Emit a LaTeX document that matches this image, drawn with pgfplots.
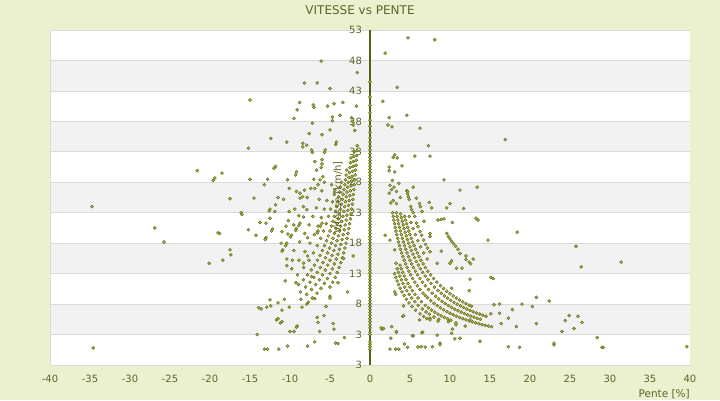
\documentclass[border=0pt]{standalone}
\usepackage{fontspec}
\setmainfont{DejaVu Sans}
\usepackage{pgfplots}
\pgfplotsset{compat=1.18}
\definecolor{bg}{RGB}{235,240,207}
\definecolor{band}{RGB}{242,242,242}
\definecolor{gridc}{RGB}{218,218,218}
\definecolor{olv}{RGB}{88,94,18}
\definecolor{olvfill}{RGB}{170,178,66}
\definecolor{txt}{RGB}{96,100,38}
\pgfplotsset{pt/.style={only marks, mark=square*, mark size=1.1pt,
  mark options={rotate=45, draw=olv, fill=olvfill, line width=0.35pt}}}
\begin{document}
\begin{tikzpicture}
\fill[bg] (0,0) rectangle (720pt,400pt);
\path[use as bounding box] (0,0) rectangle (720pt,400pt);
\node[text=txt, font=\fontsize{12}{14}\selectfont] at (360pt,390pt) {VITESSE vs PENTE};
\begin{axis}[
  axis on top,
  scale only axis, width=640pt, height=335pt,
  at={(50pt,35pt)}, anchor=south west,
  xmin=-40, xmax=40, ymin=-2, ymax=53,
  axis x line*=bottom, axis y line*=center,
  hide obscured x ticks=false, hide obscured y ticks=false,
  axis background/.style={fill=white},
  x axis line style={gridc, line width=0.8pt},
  y axis line style={olv, line width=1.3pt},
  major tick length=0pt,
  xtick={-40,-35,-30,-25,-20,-15,-10,-5,0,5,10,15,20,25,30,35,40},
  xticklabels={-40,-35,-30,-25,-20,-15,-10,-5,0,5,10,15,20,25,30,35,40},
  ytick={-2,3,8,13,18,23,28,33,38,43,48,53},
  yticklabels={3,3,8,13,18,23,28,33,38,43,48,53},
  xticklabel style={font=\fontsize{10}{12}\selectfont, text=txt, yshift=-7pt},
  yticklabel style={font=\fontsize{10}{12}\selectfont, text=txt, xshift=-4.5pt},
  xlabel={Pente [\%]}, ylabel={Vitesse [km/h]},
  every axis x label/.style={at={(rel axis cs:1,0)}, anchor=north east, inner sep=0pt, yshift=-24pt, font=\fontsize{10.5}{12}\selectfont, text=txt},
  every axis y label/.style={at={(rel axis cs:0.5,0.5)}, xshift=-32pt, rotate=90, anchor=center, inner sep=0pt, font=\fontsize{10}{12}\selectfont, text=txt},
]
\fill[band] (axis cs:-40,43) rectangle (axis cs:40,48);
\fill[band] (axis cs:-40,33) rectangle (axis cs:40,38);
\fill[band] (axis cs:-40,23) rectangle (axis cs:40,28);
\fill[band] (axis cs:-40,13) rectangle (axis cs:40,18);
\fill[band] (axis cs:-40,3) rectangle (axis cs:40,8);
\draw[gridc, line width=0.8pt] (axis cs:-40,3) -- (axis cs:40,3);
\draw[gridc, line width=0.8pt] (axis cs:-40,8) -- (axis cs:40,8);
\draw[gridc, line width=0.8pt] (axis cs:-40,13) -- (axis cs:40,13);
\draw[gridc, line width=0.8pt] (axis cs:-40,18) -- (axis cs:40,18);
\draw[gridc, line width=0.8pt] (axis cs:-40,23) -- (axis cs:40,23);
\draw[gridc, line width=0.8pt] (axis cs:-40,28) -- (axis cs:40,28);
\draw[gridc, line width=0.8pt] (axis cs:-40,33) -- (axis cs:40,33);
\draw[gridc, line width=0.8pt] (axis cs:-40,38) -- (axis cs:40,38);
\draw[gridc, line width=0.8pt] (axis cs:-40,43) -- (axis cs:40,43);
\draw[gridc, line width=0.8pt] (axis cs:-40,48) -- (axis cs:40,48);
\draw[gridc, line width=0.8pt] (rel axis cs:0,0) rectangle (rel axis cs:1,1);

% right side curves
\addplot[pt] coordinates {
(2.83,23) (2.9,22.4) (2.98,21.8) (3.07,21.2) (3.16,20.6) (3.25,20) (3.35,19.4) (3.46,18.8) (3.57,18.2) (3.69,17.6) (3.82,17) (3.96,16.4) (4.11,15.8) (4.28,15.2) (4.45,14.6) (4.64,14) (4.85,13.4) (5.08,12.8) (5.33,12.2) (5.6,11.6) (5.91,11) (6.25,10.4) (6.63,9.8) (6.91,9.4)
(7.2,9.03) (7.6,8.55) (8.0,8.13) (8.4,7.74) (8.8,7.39) (9.2,7.07) (9.6,6.77) (10.0,6.5) (10.4,6.25) (10.8,6.02) (11.2,5.8) (11.6,5.6) (12.0,5.42) (12.4,5.24) (12.8,5.08) (13.2,4.92) (13.6,4.78) (14.0,4.64) (14.4,4.51) (14.8,4.39) (15.2,4.28)
(3.3,23) (3.39,22.4) (3.49,21.8) (3.58,21.2) (3.69,20.6) (3.8,20) (3.92,19.4) (4.04,18.8) (4.18,18.2) (4.32,17.6) (4.47,17) (4.63,16.4) (4.81,15.8) (5.0,15.2) (5.21,14.6) (5.43,14) (5.67,13.4) (5.94,12.8) (6.23,12.2) (6.55,11.6) (6.91,11) (7.31,10.4) (7.76,9.8)
(8.2,9.27) (8.6,8.84) (9.0,8.44) (9.4,8.09) (9.8,7.76) (10.2,7.45) (10.6,7.17) (11.0,6.91) (11.4,6.67) (11.8,6.44) (12.2,6.23) (12.6,6.03) (13.0,5.85) (13.4,5.67) (13.8,5.51)
(3.82,22.8) (3.92,22.2) (4.03,21.6) (4.14,21) (4.26,20.4) (4.39,19.8) (4.53,19.2) (4.68,18.6) (4.83,18) (5.0,17.4) (5.18,16.8) (5.37,16.2) (5.58,15.6) (5.8,15) (6.04,14.4) (6.3,13.8) (6.59,13.2) (6.9,12.6) (7.25,12) (7.63,11.4) (8.06,10.8)
(8.5,10.24) (8.9,9.78) (9.3,9.35) (9.7,8.97) (10.1,8.61) (10.5,8.29) (10.9,7.98) (11.3,7.7) (11.7,7.44) (12.1,7.19) (12.5,6.96) (12.9,6.74) (13.3,6.54) (13.7,6.35) (14.1,6.17) (14.5,6.0)
(4.33,22.4) (4.45,21.8) (4.58,21.2) (4.71,20.6) (4.85,20) (5.0,19.4) (5.16,18.8) (5.33,18.2) (5.51,17.6) (5.71,17) (5.91,16.4) (6.14,15.8) (6.38,15.2) (6.64,14.6) (6.93,14) (7.24,13.4) (7.58,12.8) (7.95,12.2) (8.36,11.6)
(8.8,11.02) (9.2,10.54) (9.6,10.1) (10.0,9.7) (10.4,9.33) (10.8,8.98) (11.2,8.66) (11.6,8.36) (12.0,8.08) (12.4,7.82) (12.7,7.64)
(4.91,22.4) (5.14,21.4) (5.39,20.4) (5.67,19.4) (5.98,18.4) (6.32,17.4) (6.71,16.4) (7.14,15.4)
(3.75,14.4) (3.91,13.8) (4.09,13.2) (4.29,12.6) (4.5,12) (4.74,11.4) (5.0,10.8) (5.29,10.2) (5.63,9.6) (6.0,9) (6.43,8.4) (6.92,7.8)
(7.3,7.4) (7.7,7.01) (8.1,6.67) (8.5,6.35) (8.9,6.07) (9.3,5.81) (9.7,5.57) (10.1,5.35)
(3.41,13.8) (3.56,13.2) (3.73,12.6) (3.92,12) (4.12,11.4) (4.35,10.8) (4.61,10.2) (4.9,9.6) (5.22,9) (5.6,8.4) (6.03,7.8) (6.53,7.2) (7.0,6.71) (7.4,6.35) (8.0,5.88)
(3.08,13) (3.23,12.4) (3.39,11.8) (3.57,11.2) (3.77,10.6) (4.0,10) (4.26,9.4) (4.55,8.8) (4.88,8.2) (5.26,7.6) (5.71,7) (6.25,6.4) (6.7,5.97) (7.1,5.63)
(4.6,26.6) (4.7,26.1) (4.8,25.6) (4.9,25.2) (5.1,24.0) (5.2,23.5) (5.4,23.0) (5.6,22.4) (5.8,21.3) (6.0,20.7) (6.25,19.9) (6.45,19.3) (6.7,18.5) (6.95,17.8) (7.2,17.2) (7.5,16.6)
(9.6,19.6) (9.8,19.1) (10.0,18.7) (10.2,18.3) (10.45,17.9) (10.7,17.5) (11.0,17.0)
(6.2,24.5) (6.3,24.0) (6.5,23.2) (7.5,19.6) (7.5,19.1)
};

% left side curves
\addplot[pt] coordinates {
(-1.59,34) (-1.63,33.2) (-1.67,32.4) (-1.71,31.6) (-1.75,30.8) (-1.8,30) (-1.85,29.2) (-1.9,28.4) (-1.96,27.6) (-2.01,26.8) (-2.08,26) (-2.14,25.2) (-2.21,24.4) (-2.29,23.6) (-2.37,22.8) (-2.45,22) (-2.55,21.2) (-2.65,20.4) (-2.76,19.6) (-2.87,18.8) (-3.0,18) (-3.14,17.2) (-3.29,16.4) (-3.46,15.6) (-3.65,14.8) (-3.86,14) (-4.09,13.2) (-4.35,12.4) (-4.66,11.6) (-5.0,10.8)
(-1.97,33) (-2.02,32.2) (-2.07,31.4) (-2.12,30.6) (-2.18,29.8) (-2.24,29) (-2.3,28.2) (-2.37,27.4) (-2.44,26.6) (-2.52,25.8) (-2.6,25) (-2.69,24.2) (-2.78,23.4) (-2.88,22.6) (-2.98,21.8) (-3.1,21) (-3.22,20.2) (-3.35,19.4) (-3.49,18.6) (-3.65,17.8) (-3.82,17) (-4.01,16.2) (-4.22,15.4) (-4.45,14.6) (-4.71,13.8) (-5.0,13) (-5.33,12.2) (-5.7,11.4) (-6.13,10.6) (-6.63,9.8) (-7.22,9)
(-2.38,32) (-2.44,31.2) (-2.5,30.4) (-2.57,29.6) (-2.64,28.8) (-2.71,28) (-2.79,27.2) (-2.88,26.4) (-2.97,25.6) (-3.06,24.8) (-3.17,24) (-3.28,23.2) (-3.39,22.4) (-3.52,21.6) (-3.65,20.8) (-3.8,20) (-3.96,19.2) (-4.13,18.4) (-4.32,17.6) (-4.52,16.8) (-4.75,16) (-5.0,15.2) (-5.28,14.4) (-5.59,13.6) (-5.94,12.8) (-6.33,12) (-6.79,11.2) (-7.31,10.4) (-7.92,9.6) (-8.64,8.8)
(-2.9,30) (-2.98,29.2) (-3.06,28.4) (-3.15,27.6) (-3.25,26.8) (-3.35,26) (-3.45,25.2) (-3.57,24.4) (-3.69,23.6) (-3.82,22.8) (-3.95,22) (-4.1,21.2) (-4.26,20.4) (-4.44,19.6) (-4.63,18.8) (-4.83,18) (-5.06,17.2) (-5.3,16.4) (-5.58,15.6) (-5.88,14.8) (-6.21,14) (-6.59,13.2) (-7.02,12.4) (-7.5,11.6) (-8.06,10.8) (-8.7,10)
(-3.57,28) (-3.68,27.2) (-3.79,26.4) (-3.91,25.6) (-4.03,24.8) (-4.17,24) (-4.31,23.2) (-4.46,22.4) (-4.63,21.6) (-4.81,20.8) (-5.0,20) (-5.21,19.2) (-5.43,18.4) (-5.68,17.6) (-5.95,16.8) (-6.25,16) (-6.58,15.2) (-6.94,14.4) (-7.35,13.6) (-7.81,12.8) (-8.33,12) (-8.93,11.2)
(-4.46,26) (-4.68,24.8) (-4.92,23.6) (-5.18,22.4) (-5.47,21.2) (-5.8,20) (-6.17,18.8) (-6.59,17.6) (-7.07,16.4) (-7.63,15.2) (-8.29,14) (-9.06,12.8)
(-5.4,25) (-5.72,23.6) (-6.08,22.2) (-6.49,20.8) (-6.96,19.4) (-7.5,18) (-8.13,16.6) (-8.88,15.2) (-9.78,13.8)
(-5.71,28) (-6.02,26.6) (-6.35,25.2) (-6.72,23.8) (-7.14,22.4) (-7.62,21) (-8.16,19.6) (-8.79,18.2) (-9.52,16.8) (-10.39,15.4)
(-6.67,30) (-7.02,28.5) (-7.41,27) (-7.84,25.5) (-8.33,24) (-8.89,22.5) (-9.52,21) (-10.26,19.5) (-11.11,18)
(-7.9,23.5) (-8.3,22.3) (-8.75,21.3) (-8.9,20.9) (-9.2,20.4) (-9.3,20.1) (-9.8,19.3) (-9.95,19.0) (-10.4,18.0) (-10.55,17.6) (-10.9,16.9) (-11.0,16.7)
(-6.0,21.3) (-6.2,20.8) (-6.5,20.0) (-6.6,19.7)
(-6.5,27.6) (-6.9,27.0) (-6.25,28.4) (-5.9,28.9) (-8.75,26.2) (-8.4,25.6) (-4.8,27.6) (-4.4,26.7)
};

% scattered points
\addplot[pt] coordinates {
(4.75,51.7) (8.1,51.4) (1.9,49.2) (-6.1,47.9) (-1.6,46.0) (-8.2,44.3) (-6.6,44.3) (-5.0,43.4) (3.4,43.6)
(-15.0,41.5) (1.6,41.3) (-8.8,41.1) (-7.1,40.7) (-7.0,40.3) (-5.3,40.5) (-4.5,40.9) (-3.4,41.1) (-1.7,40.5)
(-9.1,39.9) (-9.5,38.5) (-4.7,38.7) (-4.7,38.1) (-3.75,39.0) (-2.3,38.6) (-2.2,38.0) (-2.1,37.4) (-1.9,36.5)
(-7.2,37.7) (-6.0,35.8) (-5.0,36.6) (-7.6,36.0) (-12.4,35.2) (-10.4,34.6) (-8.4,34.4) (-8.4,33.8) (-7.9,34.1)
(-4.2,34.6) (-4.3,34.2) (-15.2,33.6) (-7.3,33.3) (-7.2,32.9) (-5.6,33.3) (-5.7,32.9) (-6.9,31.4) (-6.0,31.7)
(-6.0,31.0) (-6.1,30.4) (-12.0,30.3) (-11.8,30.6) (-19.4,28.7) (-19.6,28.3) (-18.5,29.5) (-21.6,29.9)
(-9.2,29.7) (-9.3,29.2) (-10.3,28.4) (-12.8,28.5) (-15.0,28.5) (-13.2,27.6) (-8.2,26.7) (-8.75,25.4)
(-9.2,26.5) (-10.1,27.0) (-11.5,25.5) (-10.8,25.2) (-14.5,25.4) (-17.5,25.3) (-11.8,24.3) (-12.6,23.3)
(-12.5,23.6) (-16.1,23.0) (-16.0,22.7) (-9.4,23.6) (-34.75,24.0) (-26.9,20.5) (-25.75,18.2) (-19.0,19.7)
(-18.4,15.2) (-20.1,14.7) (-17.5,16.9) (-17.4,16.1) (-11.9,23.2) (-10.1,23.2) (-12.5,22.1) (-13.75,21.4)
(-13.0,21.3) (-10.2,21.7) (-10.5,20.8) (-12.2,20.3) (-12.3,20.0) (-15.2,20.2) (-18.8,19.6) (-14.25,19.3)
(-13.0,18.9) (-13.1,18.6) (-11.0,19.9) (-7.8,18.9) (-9.7,15.2) (-10.4,14.3) (-8.3,14.7) (-7.8,15.9)
(-7.3,12.5) (-4.0,11.5) (-3.3,15.5) (-2.1,15.9) (-10.6,11.8) (-9.25,11.5) (-2.8,10.0) (-5.0,9.3) (-5.0,9.0)
(-6.9,8.9) (-7.7,8.3) (-7.9,8.0) (-10.7,8.8) (-11.5,8.2) (-10.1,7.5) (-11.0,7.0) (-12.4,7.7) (-12.9,7.5)
(-13.6,7.2) (-8.5,7.5) (-5.5,7.6) (-6.6,5.8) (-5.75,6.1) (-11.5,5.6) (-11.7,5.4) (-11.0,5.1) (-11.2,4.9)
(-4.6,4.8) (-6.5,5.0) (-9.1,4.4) (-9.2,4.2) (-4.5,3.9) (-10.0,3.5) (-9.5,3.5) (-6.3,3.5) (-14.1,3.0)
(-3.2,2.5) (-4.3,1.6) (-4.0,1.5) (-6.9,1.8) (-7.8,1.1) (-10.3,1.1) (-13.2,0.6) (-12.8,0.6) (-11.4,0.6)
(-34.6,0.8) (-12.5,8.7) (-13.9,7.4)
(2.75,37.1) (2.25,37.4) (2.4,38.6) (4.6,39.0) (6.25,36.9) (16.9,35.0) (7.3,34.0) (5.6,32.3) (7.5,32.3)
(3.4,32.0) (3.1,32.5) (2.9,32.1) (4.0,30.7) (2.4,30.5) (2.4,29.9) (3.1,29.7) (2.5,27.5) (2.7,26.8)
(3.0,27.2) (3.3,26.5) (3.6,27.8) (2.4,26.2) (2.8,28.3) (3.3,24.5) (2.9,25.0) (3.8,25.5) (2.6,24.6)
(4.7,26.5) (5.4,27.2) (5.8,25.4) (7.4,24.7) (7.7,23.8) (9.25,28.4) (11.25,26.7) (13.4,27.2) (9.6,23.8)
(10.0,24.5) (11.7,23.7) (13.25,22.1) (13.5,21.8) (14.75,18.5) (18.4,19.8) (12.0,15.9) (12.9,15.4)
(11.5,13.9) (15.1,12.4) (15.4,12.2) (10.3,21.4) (9.25,22.0) (8.5,21.8) (8.9,21.9) (6.75,21.6) (8.9,16.7)
(10.2,15.1) (10.8,13.9) (12.4,14.9) (12.6,14.6) (10.2,10.6) (8.4,14.7) (10.0,14.7) (11.25,16.3)
(12.0,15.3) (12.4,10.2) (12.5,12.1) (1.9,19.3) (2.5,18.5) (3.1,16.9) (3.25,14.7) (3.1,10.0) (3.2,9.6)
(4.2,7.7) (4.1,6.0) (4.2,6.1) (3.3,3.4) (2.7,4.3) (1.5,3.9) (1.7,4.0) (1.4,4.1) (3.3,3.5) (2.6,2.4)
(2.5,0.6) (3.2,0.6) (3.6,0.6) (4.3,1.45) (4.7,0.9) (5.3,2.8) (5.4,2.8) (6.5,3.3) (6.6,3.4) (6.2,5.4)
(7.5,5.7) (7.5,5.4) (8.6,5.5) (8.5,5.2) (9.8,5.1) (10.3,3.9) (10.75,4.9) (10.75,4.6) (11.9,4.4)
(12.5,5.4) (8.4,2.9) (10.2,3.2) (11.25,2.4) (10.6,2.3) (6.0,0.95) (6.9,0.95) (6.4,1.0) (7.8,1.0)
(8.75,1.6) (8.75,1.3) (13.75,1.9)
(16.2,8.0) (19.0,8.0) (20.8,9.1) (22.4,8.5) (20.3,7.6) (17.8,7.1) (17.3,5.7) (16.4,4.8) (18.3,4.3)
(20.8,4.8) (24.9,6.1) (26.0,6.0) (24.4,5.3) (26.5,5.0) (25.5,4.0) (24.0,3.5) (28.4,2.5) (29.0,0.9)
(29.15,0.9) (23.0,1.3) (23.0,1.6) (17.3,1.0) (18.7,0.9) (15.1,6.4) (15.5,7.9) (25.75,17.5) (26.4,14.1)
(31.4,14.9) (39.6,1.0) (16.2,6.5)
};

% points at zero slope
\addplot[pt] coordinates {
(0,44.5) (0,42.0) (0,40.6) (0,39.4) (0,38.2) (0,37.2) (0,36.2) (0,35.3) (0,34.6) (0,33.9) (0,33.3) (0,32.7)
(0,32.1) (0,31.6) (0,31.1) (0,30.6) (0,30.1) (0,29.6) (0,29.1) (0,28.6) (0,28.1) (0,27.6) (0,27.1) (0,26.6)
(0,26.1) (0,25.6) (0,25.1) (0,24.6) (0,24.1) (0,23.6) (0,23.1) (0,22.6) (0,22.1) (0,21.6) (0,21.1) (0,20.6)
(0,20.1) (0,19.6) (0,19.1) (0,18.6) (0,18.1) (0,17.6) (0,17.1) (0,16.6) (0,16.1) (0,15.6) (0,15.1) (0,14.6)
(0,14.1) (0,13.6) (0,13.1) (0,12.6) (0,12.1) (0,11.6) (0,11.1) (0,10.6) (0,10.1) (0,9.6) (0,9.1) (0,8.6)
(0,8.1) (0,7.6) (0,7.1) (0,6.6) (0,6.1) (0,5.6) (0,5.1) (0,4.6) (0,4.1) (0,3.4) (0,3.0) (0,1.8) (0,1.4)
(0,1.0) (0,0.6)
};
\end{axis}
\end{tikzpicture}
\end{document}
